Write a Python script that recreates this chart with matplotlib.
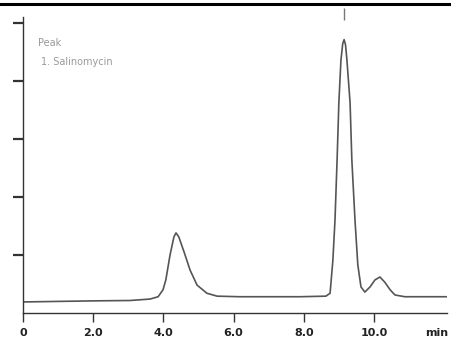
import matplotlib
matplotlib.use("Agg")
import matplotlib.pyplot as plt
from matplotlib.lines import Line2D
from matplotlib.transforms import blended_transform_factory

# chromatogram trace (time in min, signal in tick units)
time_min = [0.0, 1.05, 2.19, 3.05, 3.62, 3.85, 3.99, 4.07, 4.19, 4.30, 4.36,
            4.44, 4.59, 4.76, 4.96, 5.24, 5.53, 6.18, 7.89, 8.63, 8.75, 8.83,
            8.89, 8.95, 9.00, 9.06, 9.11, 9.15, 9.19, 9.23, 9.32, 9.37, 9.46,
            9.54, 9.63, 9.74, 9.89, 10.03, 10.17, 10.31, 10.46, 10.60, 10.88,
            12.08]
signal = [0.19, 0.20, 0.21, 0.215, 0.24, 0.28, 0.40, 0.57, 1.00, 1.31, 1.38,
          1.31, 1.05, 0.74, 0.48, 0.34, 0.29, 0.28, 0.28, 0.29, 0.34, 0.91,
          1.60, 2.64, 3.62, 4.36, 4.64, 4.71, 4.62, 4.36, 3.62, 2.64, 1.60,
          0.83, 0.45, 0.36, 0.45, 0.57, 0.62, 0.53, 0.40, 0.31, 0.28, 0.28]

x_ticks = [0, 2, 4, 6, 8, 10]
x_labels = ["0", "2.0", "4.0", "6.0", "8.0", "10.0"]
y_ticks = [1, 2, 3, 4, 5]
peak_time = 9.15
legend_lines = ["Peak", "1. Salinomycin"]

fig = plt.figure(figsize=(4.51, 3.45), dpi=100)
ax = fig.add_axes([0.051, 0.0928, 0.94, 0.858])

ax.plot(time_min, signal, color="#555555", lw=1.2)
ax.set_xlim(0, 12.08)
ax.set_ylim(0, 5.1)

for side in ["top", "right"]:
    ax.spines[side].set_visible(False)
ax.spines["left"].set_color("#333333")
ax.spines["bottom"].set_color("#333333")
ax.spines["left"].set_linewidth(1.0)
ax.spines["bottom"].set_linewidth(1.0)

ax.set_xticks(x_ticks)
ax.set_xticklabels(x_labels, fontsize=8, fontweight="bold", color="#222222")
ax.tick_params(axis="x", direction="out", length=6.5, width=1.0,
               color="#333333", pad=4)
ax.set_yticks(y_ticks)
ax.set_yticklabels([])
ax.tick_params(axis="y", direction="out", length=7, width=1.6, color="#333333")

trans = blended_transform_factory(ax.transData, ax.transAxes)
ax.text(11.8, -0.068, "min", transform=trans, ha="center", va="center",
        fontsize=8, fontweight="bold", color="#222222")

# peak marker above the big peak
ax.vlines(peak_time, 5.05, 5.26, color="#777777", lw=1.0, clip_on=False)

ax.text(0.43, 4.65, legend_lines[0], fontsize=7, color="#999999",
        va="center", ha="left")
ax.text(0.51, 4.33, legend_lines[1], fontsize=7, color="#999999",
        va="center", ha="left")

# thick rule along the top edge
fig.add_artist(Line2D([0, 1], [0.988, 0.988], color="black", lw=2.2,
                      transform=fig.transFigure))

fig.savefig("out.png", dpi=100)
